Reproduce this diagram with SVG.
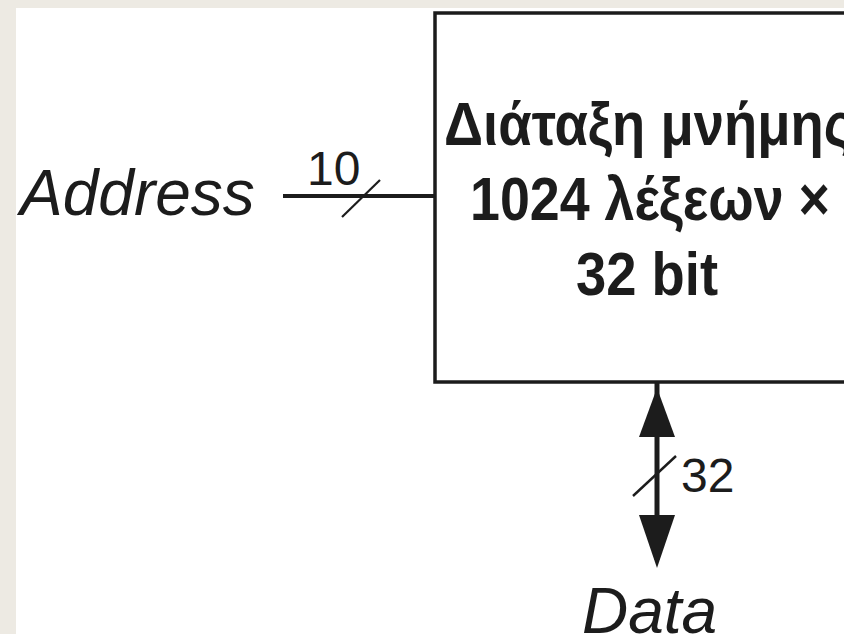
<svg xmlns="http://www.w3.org/2000/svg" width="844" height="634" viewBox="0 0 844 634">
<defs>
<style>
.lbl{font-family:"Liberation Sans",Arial,sans-serif;fill:#1c1c1c}
.it{font-style:italic;font-size:64px}
.num{font-size:48px}
.box{font-weight:bold;font-size:62px;text-anchor:middle}
.wire{stroke:#1c1c1c;fill:none}
</style>
</defs>
<rect x="0" y="0" width="844" height="634" fill="#edeae3"/>
<rect x="16" y="8" width="828" height="626" fill="#ffffff"/>
<g id="memory">
<rect x="435" y="13" width="430" height="369" fill="#ffffff" stroke="#1c1c1c" stroke-width="3.5"/>
<text class="lbl box" x="648" y="145" textLength="408" lengthAdjust="spacingAndGlyphs">Διάταξη μνήμης</text>
<text class="lbl box" x="650" y="220" textLength="360" lengthAdjust="spacingAndGlyphs">1024 λέξεων ×</text>
<text class="lbl box" x="647" y="295" textLength="142" lengthAdjust="spacingAndGlyphs">32 bit</text>
</g>
<g id="address">
<text class="lbl it" x="20" y="215">Address</text>
</g>
<g id="data">
<text class="lbl it" x="582" y="633">Data</text>
</g>
<g id="connectors">
<line class="wire" x1="283" y1="196" x2="435" y2="196" stroke-width="4"/>
<line class="wire" x1="342" y1="217" x2="380" y2="180" stroke-width="2.2"/>
<text class="lbl num" x="307" y="185">10</text>
<line class="wire" x1="657" y1="383" x2="657" y2="560" stroke-width="5"/>
<polygon points="657,388 675,437 639,437" fill="#1c1c1c"/>
<polygon points="639,515 675,515 657,568" fill="#1c1c1c"/>
<line class="wire" x1="633" y1="496" x2="676" y2="456" stroke-width="2.4"/>
<text class="lbl num" x="681" y="492">32</text>
</g>
</svg>
